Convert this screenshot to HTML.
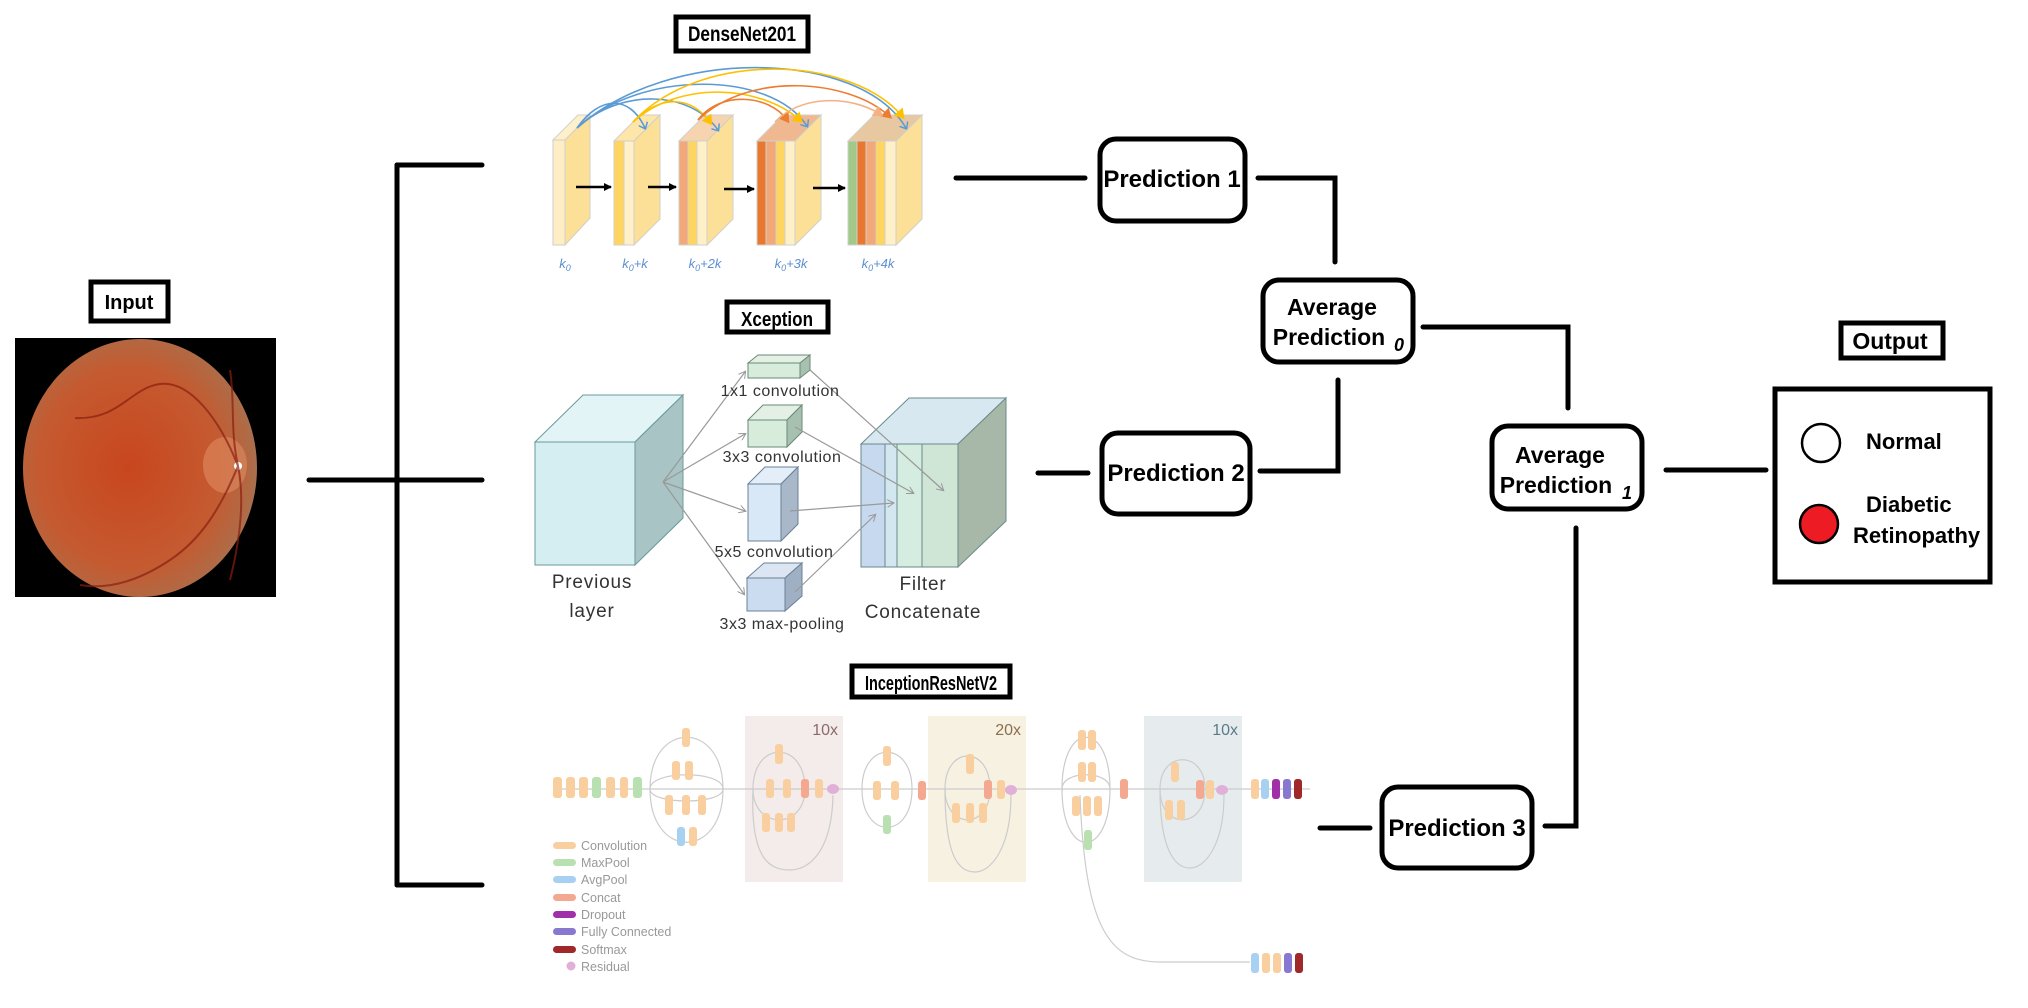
<!DOCTYPE html>
<html><head><meta charset="utf-8"><style>
html,body{margin:0;padding:0;background:#fff;}
svg{display:block;}
text{font-family:"Liberation Sans",Arial,sans-serif;}
</style></head><body>
<svg width="2028" height="1008" viewBox="0 0 2028 1008" xmlns="http://www.w3.org/2000/svg">
<defs>
<marker id="ab" markerWidth="8" markerHeight="8" refX="7" refY="4" orient="auto" markerUnits="userSpaceOnUse"><path d="M0,0 L8,4 L0,8 z" fill="#000"/></marker>
<marker id="mb" markerWidth="10" markerHeight="10" refX="5" refY="5" orient="auto" markerUnits="userSpaceOnUse"><path d="M0,0 L6,5 L0,10" fill="none" stroke="#5b9bd5" stroke-width="1.5"/></marker>
<marker id="my" markerWidth="12" markerHeight="12" refX="6" refY="6" orient="auto" markerUnits="userSpaceOnUse"><path d="M0,0 L10,6 L0,12 z" fill="#ffc000"/></marker>
<marker id="mo" markerWidth="12" markerHeight="12" refX="6" refY="6" orient="auto" markerUnits="userSpaceOnUse"><path d="M0,0 L10,6 L0,12 z" fill="#ed7d31"/></marker>
<marker id="ml" markerWidth="12" markerHeight="12" refX="6" refY="6" orient="auto" markerUnits="userSpaceOnUse"><path d="M0,0 L10,6 L0,12 z" fill="#f4b183"/></marker>
<marker id="mg" markerWidth="8" markerHeight="8" refX="6" refY="4" orient="auto" markerUnits="userSpaceOnUse"><path d="M0,0 L7,4 L0,8" fill="none" stroke="#999" stroke-width="1"/></marker>
<radialGradient id="ret" cx="0.45" cy="0.5" r="0.55">
<stop offset="0" stop-color="#c8461e"/><stop offset="0.7" stop-color="#c55a30"/><stop offset="0.95" stop-color="#b06a45"/><stop offset="1" stop-color="#a87050"/></radialGradient>
</defs>

<rect x="91" y="282" width="77" height="39" fill="#fff" stroke="#000" stroke-width="5"/>
<text x="129" y="309" font-size="20" font-weight="bold" text-anchor="middle">Input</text>
<rect x="15" y="338" width="261" height="259" fill="#000"/>
<ellipse cx="140" cy="468" rx="117" ry="129" fill="url(#ret)"/>
<ellipse cx="225" cy="465" rx="22" ry="28" fill="#e08a60" opacity="0.6"/>
<circle cx="238" cy="466" r="4" fill="#fff"/>
<g fill="none" stroke="#8a1f10" stroke-width="2" opacity="0.7">
<path d="M238,466 C220,420 190,380 160,384 C130,388 120,420 75,418"/>
<path d="M238,466 C220,510 200,540 170,560 C140,580 110,590 80,585"/>
<path d="M238,466 C230,430 235,400 230,370"/>
<path d="M238,466 C245,500 240,540 230,580"/>
</g>

<g stroke="#000" stroke-width="5" fill="none" stroke-linecap="round">
<line x1="397" y1="165" x2="397" y2="885"/>
<line x1="397" y1="165" x2="482" y2="165"/>
<line x1="397" y1="885" x2="482" y2="885"/>
<line x1="309" y1="480" x2="482" y2="480"/>
<line x1="956" y1="178" x2="1085" y2="178"/>
<path d="M1258,178 L1335,178 L1335,262"/>
<path d="M1423,327 L1568,327 L1568,408"/>
<line x1="1038" y1="473" x2="1088" y2="473"/>
<path d="M1260,471 L1338,471 L1338,380"/>
<line x1="1666" y1="470" x2="1766" y2="470"/>
<path d="M1576,528 L1576,826 L1545,826"/>
<line x1="1320" y1="828" x2="1370" y2="828"/>
</g>

<g fill="#fff" stroke="#000" stroke-width="5">
<rect x="1100" y="139" width="145" height="82" rx="16"/>
<rect x="1263" y="280" width="150" height="82" rx="16"/>
<rect x="1102" y="433" width="148" height="81" rx="16"/>
<rect x="1492" y="426" width="150" height="83" rx="16"/>
<rect x="1382" y="787" width="150" height="81" rx="16"/>
</g>
<g font-size="24" font-weight="bold" text-anchor="middle">
<text x="1172" y="187">Prediction 1</text>
<text x="1176" y="481">Prediction 2</text>
<text x="1457" y="836">Prediction 3</text>
<text x="1332" y="315" font-size="23">Average</text>
<text x="1329" y="345" font-size="23">Prediction</text>
<text x="1399" y="351" font-size="18" font-style="italic">0</text>
<text x="1560" y="463" font-size="23">Average</text>
<text x="1556" y="493" font-size="23">Prediction</text>
<text x="1627" y="499" font-size="18" font-style="italic">1</text>
</g>

<rect x="1841" y="323" width="102" height="35" fill="#fff" stroke="#000" stroke-width="5"/>
<text x="1890" y="349" font-size="23" font-weight="bold" text-anchor="middle">Output</text>
<rect x="1775" y="389" width="215" height="193" fill="#fff" stroke="#000" stroke-width="5"/>
<circle cx="1821" cy="443" r="19" fill="#fff" stroke="#000" stroke-width="2.5"/>
<circle cx="1819" cy="524" r="19" fill="#ed1c24" stroke="#000" stroke-width="2.5"/>
<g font-size="22" font-weight="bold">
<text x="1866" y="449">Normal</text>
<text x="1866" y="512">Diabetic</text>
<text x="1853" y="543">Retinopathy</text>
</g>

<rect x="676" y="17" width="132" height="34" fill="#fff" stroke="#000" stroke-width="5"/>
<text x="742" y="41" font-size="21" font-weight="bold" text-anchor="middle" textLength="108" lengthAdjust="spacingAndGlyphs">DenseNet201</text>

<g stroke="#d0cfc8" stroke-width="1">
<polygon points="553,140 565,140 590,115 578,115" fill="#fff0cc"/>
<rect x="553" y="140" width="12" height="105" fill="#ffedc6"/>
<polygon points="565,140 590,115 590,218 565,245" fill="#fde098"/>
<polygon points="614,141 634,141 660,115 640,115" fill="#fde6a8"/>
<rect x="614" y="141" width="10" height="104" fill="#ffd45f"/>
<rect x="624" y="141" width="10" height="104" fill="#fff0c8"/>
<polygon points="634,141 660,115 660,219 634,245" fill="#fde098"/>
<polygon points="679,141 707,141 733,115 705,115" fill="#f6d4b0"/>
<rect x="679" y="141" width="9" height="104" fill="#f3a87a"/>
<rect x="688" y="141" width="9" height="104" fill="#ffd45f"/>
<rect x="697" y="141" width="10" height="104" fill="#fff0c8"/>
<polygon points="707,141 733,115 733,219 707,245" fill="#fde098"/>
<polygon points="757,141 795,141 821,115 783,115" fill="#f0b890"/>
<rect x="757" y="141" width="9" height="104" fill="#e87730"/>
<rect x="766" y="141" width="10" height="104" fill="#f3a87a"/>
<rect x="776" y="141" width="9" height="104" fill="#ffd45f"/>
<rect x="785" y="141" width="10" height="104" fill="#fff0c8"/>
<polygon points="795,141 821,115 821,219 795,245" fill="#fde098"/>
<polygon points="848,141 896,141 922,115 874,115" fill="#e8c8a0"/>
<rect x="848" y="141" width="9" height="104" fill="#a2c98a"/>
<rect x="857" y="141" width="9" height="104" fill="#e87730"/>
<rect x="866" y="141" width="10" height="104" fill="#f3a87a"/>
<rect x="876" y="141" width="9" height="104" fill="#ffd45f"/>
<rect x="885" y="141" width="11" height="104" fill="#fff0c8"/>
<polygon points="896,141 922,115 922,219 896,245" fill="#fde098"/>
</g>
<g stroke="#000" stroke-width="2.5" marker-end="url(#ab)">
<line x1="576" y1="187" x2="611" y2="187"/>
<line x1="648" y1="187" x2="676" y2="187"/>
<line x1="724" y1="189" x2="754" y2="189"/>
<line x1="813" y1="188" x2="845" y2="188"/>
</g>
<g fill="none" stroke-width="1.6">
<path d="M577,128 C600,95 630,95 645,128" stroke="#5b9bd5" marker-end="url(#mb)"/>
<path d="M577,128 C620,88 690,90 718,130" stroke="#5b9bd5" marker-end="url(#mb)"/>
<path d="M577,128 C640,70 770,70 807,126" stroke="#5b9bd5" marker-end="url(#mb)"/>
<path d="M577,128 C670,45 860,50 906,128" stroke="#5b9bd5" marker-end="url(#mb)"/>
<path d="M633,122 C660,95 690,95 710,122" stroke="#ffc000" marker-end="url(#my)"/>
<path d="M633,122 C680,80 760,85 800,120" stroke="#ffc000" marker-end="url(#my)"/>
<path d="M633,122 C700,50 850,55 902,116" stroke="#ffc000" marker-end="url(#my)"/>
<path d="M698,120 C720,90 770,95 787,120" stroke="#ed7d31" marker-end="url(#mo)"/>
<path d="M698,120 C750,70 850,80 889,116" stroke="#ed7d31" marker-end="url(#mo)"/>
<path d="M775,122 C800,95 850,95 880,114" stroke="#f4b183" marker-end="url(#ml)"/>
</g>
<g font-family="Liberation Serif,serif" font-style="italic" font-size="13" fill="#5b8fd0" text-anchor="middle">
<text x="565" y="268">k<tspan font-size="9" dy="3">0</tspan></text>
<text x="635" y="268">k<tspan font-size="9" dy="3">0</tspan><tspan dy="-3">+k</tspan></text>
<text x="705" y="268">k<tspan font-size="9" dy="3">0</tspan><tspan dy="-3">+2k</tspan></text>
<text x="791" y="268">k<tspan font-size="9" dy="3">0</tspan><tspan dy="-3">+3k</tspan></text>
<text x="878" y="268">k<tspan font-size="9" dy="3">0</tspan><tspan dy="-3">+4k</tspan></text>
</g>

<rect x="727" y="302" width="101" height="30" fill="#fff" stroke="#000" stroke-width="5"/>
<text x="777" y="326" font-size="20" font-weight="bold" text-anchor="middle" textLength="72" lengthAdjust="spacingAndGlyphs">Xception</text>
<g stroke="#6a9a9a" stroke-width="1">
<polygon points="535,442 635,442 683,395 583,395" fill="#e2f4f6"/>
<rect x="535" y="442" width="100" height="123" fill="#d5eef2"/>
<polygon points="635,442 683,395 683,518 635,565" fill="#a9c4c4"/>
</g>
<g stroke="#6a8a7a" stroke-width="1">
<polygon points="748,363 800,363 810,355 758,355" fill="#e4f0e4"/>
<rect x="748" y="363" width="52" height="15" fill="#d8ecdc"/>
<polygon points="800,363 810,355 810,370 800,378" fill="#a8c0b0"/>
<polygon points="748,420 787,420 802,405 763,405" fill="#e4f0e4"/>
<rect x="748" y="420" width="39" height="27" fill="#d8ecdc"/>
<polygon points="787,420 802,405 802,432 787,447" fill="#a8c0b0"/>
</g>
<g stroke="#6a8098" stroke-width="1">
<polygon points="748,484 781,484 798,467 765,467" fill="#e4eef8"/>
<rect x="748" y="484" width="33" height="57" fill="#d8e8f6"/>
<polygon points="781,484 798,467 798,524 781,541" fill="#a8b8c8"/>
<polygon points="747,578 785,578 802,563 764,563" fill="#dce6f2"/>
<rect x="747" y="578" width="38" height="33" fill="#ccdcf0"/>
<polygon points="785,578 802,563 802,596 785,611" fill="#a0b0c4"/>
</g>
<g stroke="#6a8a8a" stroke-width="1">
<polygon points="861,444 958,444 1006,398 909,398" fill="#d8e8f0"/>
<rect x="861" y="444" width="24" height="123" fill="#c7d9ee"/>
<rect x="885" y="444" width="12" height="123" fill="#d3e7f0"/>
<rect x="897" y="444" width="25" height="123" fill="#d5ece0"/>
<rect x="922" y="444" width="36" height="123" fill="#cfe5d6"/>
<polygon points="958,444 1006,398 1006,521 958,567" fill="#a8b8a8"/>
</g>
<g stroke="#999" stroke-width="1.2" fill="none" marker-end="url(#mg)">
<line x1="663" y1="482" x2="745" y2="372"/>
<line x1="663" y1="482" x2="745" y2="434"/>
<line x1="663" y1="482" x2="745" y2="511"/>
<line x1="663" y1="482" x2="744" y2="594"/>
<line x1="810" y1="370" x2="943" y2="490"/>
<line x1="795" y1="427" x2="913" y2="493"/>
<line x1="790" y1="511" x2="893" y2="503"/>
<line x1="795" y1="592" x2="875" y2="515"/>
</g>
<g font-size="16" fill="#333" text-anchor="middle" letter-spacing="0.5">
<text x="780" y="396">1x1 convolution</text>
<text x="782" y="462">3x3 convolution</text>
<text x="774" y="557">5x5 convolution</text>
<text x="782" y="629">3x3 max-pooling</text>
</g>
<g font-size="19" fill="#333" text-anchor="middle" letter-spacing="0.8">
<text x="592" y="588">Previous</text>
<text x="592" y="617">layer</text>
<text x="923" y="590">Filter</text>
<text x="923" y="618">Concatenate</text>
</g>

<rect x="852" y="666" width="158" height="31" fill="#fff" stroke="#000" stroke-width="5"/>
<text x="931" y="690" font-size="20" font-weight="bold" text-anchor="middle" textLength="132" lengthAdjust="spacingAndGlyphs">InceptionResNetV2</text>
<rect x="745" y="716" width="98" height="166" fill="#f3ecea"/>
<rect x="928" y="716" width="98" height="166" fill="#f7f1e1"/>
<rect x="1144" y="716" width="98" height="166" fill="#e6ecee"/>
<g font-size="16" text-anchor="end">
<text x="838" y="735" fill="#8a6a6a">10x</text>
<text x="1021" y="735" fill="#8a7050">20x</text>
<text x="1238" y="735" fill="#5a7a8a">10x</text>
</g>
<g fill="none" stroke="#ccc" stroke-width="1.2">
<line x1="553" y1="789" x2="1310" y2="789"/>
<path d="M650,789 C650,720 723,720 723,789 C723,860 650,860 650,789"/>
<path d="M650,789 C650,770 723,770 723,789"/>
<path d="M650,789 C650,805 723,805 723,789"/>
<path d="M753,789 C753,740 805,740 805,789 C805,830 753,830 753,789"/>
<path d="M753,789 C750,860 770,870 790,870 C810,870 832,850 833,795"/>
<path d="M862,789 C862,740 912,740 912,789 C912,840 862,840 862,789"/>
<path d="M945,789 C945,745 990,745 990,789 C990,830 945,830 945,789"/>
<path d="M945,789 C945,860 960,872 975,872 C990,872 1011,850 1011,795"/>
<path d="M1062,789 C1062,720 1110,720 1110,789 C1110,860 1062,860 1062,789"/>
<path d="M1062,789 C1062,770 1110,770 1110,789"/>
<path d="M1160,789 C1160,750 1205,750 1205,789 C1205,830 1160,830 1160,789"/>
<path d="M1160,789 C1160,860 1180,868 1190,868 C1205,868 1224,845 1224,795"/>
<path d="M1080,795 C1085,930 1110,962 1160,962 L1250,962"/>
</g>
<g>
<rect x="553" y="777" width="9" height="21" rx="3" fill="#f9cfa0"/>
<rect x="566" y="777" width="9" height="21" rx="3" fill="#f9cfa0"/>
<rect x="579" y="777" width="9" height="21" rx="3" fill="#f9cfa0"/>
<rect x="592" y="777" width="9" height="21" rx="3" fill="#b8e0b0"/>
<rect x="606" y="777" width="9" height="21" rx="3" fill="#f9cfa0"/>
<rect x="620" y="777" width="8" height="21" rx="3" fill="#f9cfa0"/>
<rect x="633" y="777" width="9" height="21" rx="3" fill="#b8e0b0"/>
<rect x="682" y="728" width="8" height="19" rx="3" fill="#f9cfa0"/>
<rect x="672" y="761" width="8" height="19" rx="3" fill="#f9cfa0"/>
<rect x="685" y="761" width="8" height="19" rx="3" fill="#f9cfa0"/>
<rect x="665" y="795" width="8" height="20" rx="3" fill="#f9cfa0"/>
<rect x="682" y="795" width="8" height="20" rx="3" fill="#f9cfa0"/>
<rect x="698" y="795" width="8" height="20" rx="3" fill="#f9cfa0"/>
<rect x="677" y="827" width="8" height="19" rx="3" fill="#a8d0f0"/>
<rect x="689" y="827" width="8" height="19" rx="3" fill="#f9cfa0"/>
<rect x="775" y="744" width="8" height="20" rx="3" fill="#f9cfa0"/>
<rect x="766" y="779" width="8" height="19" rx="3" fill="#f9cfa0"/>
<rect x="783" y="779" width="8" height="19" rx="3" fill="#f9cfa0"/>
<rect x="801" y="779" width="8" height="19" rx="3" fill="#f4a890"/>
<rect x="815" y="779" width="8" height="19" rx="3" fill="#f9cfa0"/>
<ellipse cx="833" cy="789" rx="6" ry="5" fill="#e0b0d8"/>
<rect x="762" y="813" width="8" height="19" rx="3" fill="#f9cfa0"/>
<rect x="775" y="813" width="8" height="19" rx="3" fill="#f9cfa0"/>
<rect x="787" y="813" width="8" height="19" rx="3" fill="#f9cfa0"/>
<rect x="883" y="746" width="8" height="20" rx="3" fill="#f9cfa0"/>
<rect x="873" y="781" width="8" height="19" rx="3" fill="#f9cfa0"/>
<rect x="891" y="781" width="8" height="19" rx="3" fill="#f9cfa0"/>
<rect x="883" y="815" width="8" height="19" rx="3" fill="#b8e0b0"/>
<rect x="918" y="781" width="8" height="19" rx="3" fill="#f4a890"/>
<rect x="966" y="754" width="8" height="20" rx="3" fill="#f9cfa0"/>
<rect x="984" y="780" width="8" height="19" rx="3" fill="#f4a890"/>
<rect x="997" y="780" width="8" height="19" rx="3" fill="#f9cfa0"/>
<ellipse cx="1011" cy="790" rx="6" ry="5" fill="#e0b0d8"/>
<rect x="952" y="803" width="8" height="20" rx="3" fill="#f9cfa0"/>
<rect x="966" y="803" width="8" height="20" rx="3" fill="#f9cfa0"/>
<rect x="979" y="803" width="8" height="20" rx="3" fill="#f9cfa0"/>
<rect x="1078" y="730" width="8" height="20" rx="3" fill="#f9cfa0"/>
<rect x="1088" y="730" width="8" height="20" rx="3" fill="#f9cfa0"/>
<rect x="1078" y="762" width="8" height="20" rx="3" fill="#f9cfa0"/>
<rect x="1088" y="762" width="8" height="20" rx="3" fill="#f9cfa0"/>
<rect x="1072" y="796" width="8" height="20" rx="3" fill="#f9cfa0"/>
<rect x="1083" y="796" width="8" height="20" rx="3" fill="#f9cfa0"/>
<rect x="1094" y="796" width="8" height="20" rx="3" fill="#f9cfa0"/>
<rect x="1084" y="830" width="8" height="20" rx="3" fill="#b8e0b0"/>
<rect x="1120" y="779" width="8" height="20" rx="3" fill="#f4a890"/>
<rect x="1171" y="762" width="8" height="20" rx="3" fill="#f9cfa0"/>
<rect x="1196" y="780" width="8" height="19" rx="3" fill="#f4a890"/>
<rect x="1206" y="780" width="8" height="19" rx="3" fill="#f9cfa0"/>
<ellipse cx="1222" cy="790" rx="6" ry="5" fill="#e0b0d8"/>
<rect x="1165" y="800" width="8" height="20" rx="3" fill="#f9cfa0"/>
<rect x="1177" y="800" width="8" height="20" rx="3" fill="#f9cfa0"/>
<rect x="1251" y="779" width="8" height="20" rx="3" fill="#f9cfa0"/>
<rect x="1261" y="779" width="8" height="20" rx="3" fill="#a8d0f0"/>
<rect x="1272" y="779" width="8" height="20" rx="3" fill="#a030a8"/>
<rect x="1283" y="779" width="8" height="20" rx="3" fill="#8878d0"/>
<rect x="1294" y="779" width="8" height="20" rx="3" fill="#a02828"/>
<rect x="1251" y="953" width="8" height="20" rx="3" fill="#a8d0f0"/>
<rect x="1262" y="953" width="8" height="20" rx="3" fill="#f9cfa0"/>
<rect x="1273" y="953" width="8" height="20" rx="3" fill="#f9cfa0"/>
<rect x="1284" y="953" width="8" height="20" rx="3" fill="#8878d0"/>
<rect x="1295" y="953" width="8" height="20" rx="3" fill="#a02828"/>
</g>
<g>
<rect x="553" y="842" width="23" height="7" rx="3.5" fill="#f9cfa0"/>
<rect x="553" y="859" width="23" height="7" rx="3.5" fill="#b8e0b0"/>
<rect x="553" y="876" width="23" height="7" rx="3.5" fill="#a8d0f0"/>
<rect x="553" y="894" width="23" height="7" rx="3.5" fill="#f4a890"/>
<rect x="553" y="911" width="23" height="7" rx="3.5" fill="#a030a8"/>
<rect x="553" y="928" width="23" height="7" rx="3.5" fill="#8878d0"/>
<rect x="553" y="946" width="23" height="7" rx="3.5" fill="#a02828"/>
<circle cx="571" cy="966" r="4.5" fill="#e0b0d8"/>
</g>
<g font-size="12.5" fill="#999">
<text x="581" y="850">Convolution</text>
<text x="581" y="867">MaxPool</text>
<text x="581" y="884">AvgPool</text>
<text x="581" y="902">Concat</text>
<text x="581" y="919">Dropout</text>
<text x="581" y="936">Fully Connected</text>
<text x="581" y="954">Softmax</text>
<text x="581" y="971">Residual</text>
</g>
</svg>
</body></html>
